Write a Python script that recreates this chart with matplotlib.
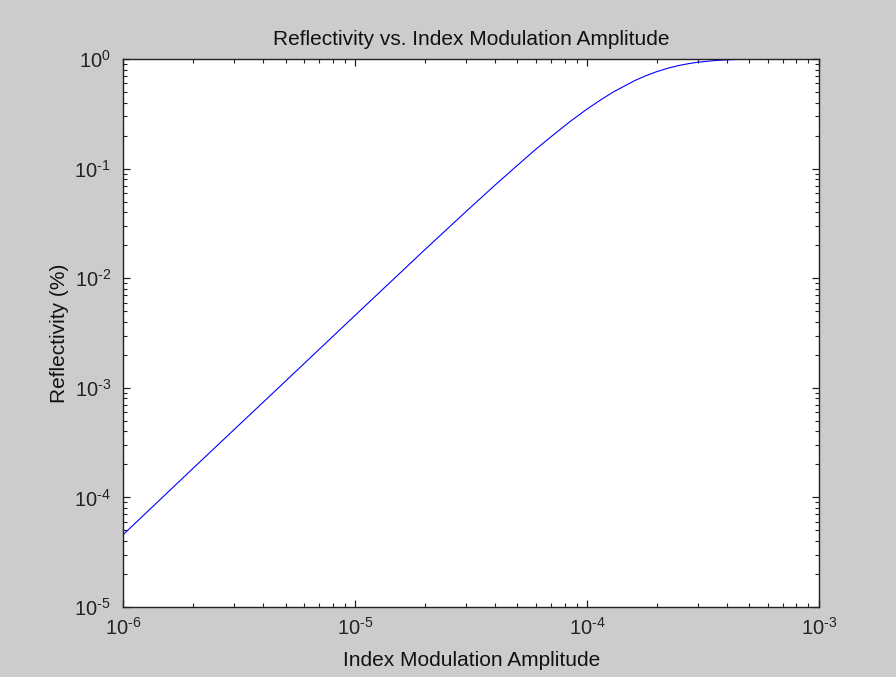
import matplotlib.pyplot as plt
from matplotlib.ticker import LogLocator, FuncFormatter, NullFormatter
import numpy as np

plt.rcParams['font.family'] = ['Liberation Sans', 'DejaVu Sans']
plt.rcParams['mathtext.fontset'] = 'custom'
plt.rcParams['mathtext.rm'] = 'Liberation Sans'
plt.rcParams['mathtext.it'] = 'Liberation Sans'

# valeurs
amplitude = [1e-6, 2e-6, 5e-6, 1e-5, 2e-5, 3e-5, 4e-5, 5e-5, 6e-5, 7e-5,
             8.5e-5, 1e-4, 1.15e-4, 1.3e-4, 1.6e-4, 1.8e-4, 2e-4, 2.25e-4,
             2.5e-4, 2.75e-4, 3e-4, 3.5e-4, 4e-4, 4.5e-4, 5e-4, 6e-4, 7e-4, 1e-3]
reflectivite = [4.6e-5, 1.85e-4, 1.15e-3, 4.6e-3, 0.0183, 0.0405, 0.0705, 0.107, 0.150, 0.196,
                0.272, 0.350, 0.427, 0.502, 0.634, 0.707, 0.768, 0.829,
                0.875, 0.909, 0.935, 0.966, 0.983, 0.991, 0.9955, 0.9989, 0.9999, 1.0]


def puissance(v, pos):
    e = int(round(np.log10(v)))
    if e < 0:
        return r'$10^{\text{-}%d}$' % (-e)
    return r'$10^{%d}$' % e


fig = plt.figure(figsize=(8.96, 6.77), dpi=100, facecolor='#cccccc')
ax = fig.add_axes([0.1378, 0.1034, 0.7762, 0.8094])
ax.set_facecolor('white')

ax.plot(amplitude, reflectivite, color='#0000ff', linewidth=0.8)

ax.set_xscale('log')
ax.set_yscale('log')
ax.set_xlim(1e-6, 1e-3)
ax.set_ylim(1e-5, 1)

ax.xaxis.set_major_locator(LogLocator(base=10, numticks=10))
ax.yaxis.set_major_locator(LogLocator(base=10, numticks=10))
ax.xaxis.set_minor_locator(LogLocator(base=10, subs=range(2, 10), numticks=20))
ax.yaxis.set_minor_locator(LogLocator(base=10, subs=range(2, 10), numticks=20))
ax.xaxis.set_major_formatter(FuncFormatter(puissance))
ax.yaxis.set_major_formatter(FuncFormatter(puissance))
ax.xaxis.set_minor_formatter(NullFormatter())
ax.yaxis.set_minor_formatter(NullFormatter())

ax.tick_params(which='both', direction='in', top=True, right=True, labelsize=14.5, colors='#222222')
ax.tick_params(which='major', length=5, width=0.9)
ax.tick_params(axis='x', which='major', pad=7)
ax.tick_params(axis='y', which='major', pad=9)
ax.tick_params(which='minor', length=3, width=0.8)
for s in ax.spines.values():
    s.set_linewidth(1.0)
    s.set_color('#222222')

ax.set_title('Reflectivity vs. Index Modulation Amplitude', fontsize=15, pad=10, color='#111111')
ax.set_xlabel('Index Modulation Amplitude', fontsize=15, labelpad=9, color='#111111')
ax.set_ylabel('Reflectivity (%)', fontsize=15, labelpad=4, color='#111111')

fig.savefig('out.png', dpi=100, facecolor=fig.get_facecolor())
